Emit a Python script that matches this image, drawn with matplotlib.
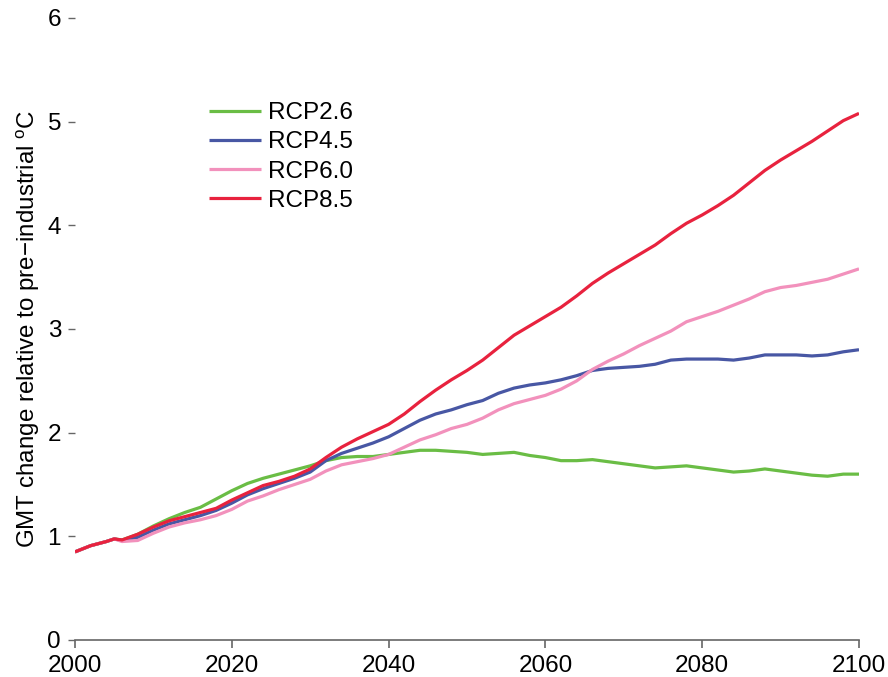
import matplotlib
matplotlib.use('Agg')
import matplotlib.pyplot as plt

plt.rcParams['font.family'] = ['Liberation Sans', 'DejaVu Sans']
plt.rcParams['mathtext.default'] = 'regular'

years = [2000, 2002, 2004, 2005, 2006] + list(range(2008, 2101, 2))

rcp26 = [0.85, 0.91, 0.95, 0.975, 0.965, 1.02, 1.10, 1.17, 1.23, 1.28, 1.36, 1.44,
         1.51, 1.56, 1.60, 1.64, 1.68, 1.73, 1.76, 1.77, 1.77, 1.79, 1.81, 1.83,
         1.83, 1.82, 1.81, 1.79, 1.80, 1.81, 1.78, 1.76, 1.73, 1.73, 1.74, 1.72,
         1.70, 1.68, 1.66, 1.67, 1.68, 1.66, 1.64, 1.62, 1.63, 1.65, 1.63, 1.61,
         1.59, 1.58, 1.60, 1.60]
rcp45 = [0.85, 0.91, 0.95, 0.975, 0.96, 0.99, 1.06, 1.12, 1.16, 1.20, 1.25, 1.32,
         1.40, 1.46, 1.51, 1.56, 1.62, 1.73, 1.80, 1.85, 1.90, 1.96, 2.04, 2.12,
         2.18, 2.22, 2.27, 2.31, 2.38, 2.43, 2.46, 2.48, 2.51, 2.55, 2.60, 2.62,
         2.63, 2.64, 2.66, 2.70, 2.71, 2.71, 2.71, 2.70, 2.72, 2.75, 2.75, 2.75,
         2.74, 2.75, 2.78, 2.80]
rcp60 = [0.85, 0.91, 0.95, 0.975, 0.95, 0.96, 1.03, 1.09, 1.13, 1.16, 1.20, 1.26,
         1.34, 1.39, 1.45, 1.50, 1.55, 1.63, 1.69, 1.72, 1.75, 1.79, 1.86, 1.93,
         1.98, 2.04, 2.08, 2.14, 2.22, 2.28, 2.32, 2.36, 2.42, 2.50, 2.61, 2.69,
         2.76, 2.84, 2.91, 2.98, 3.07, 3.12, 3.17, 3.23, 3.29, 3.36, 3.40, 3.42,
         3.45, 3.48, 3.53, 3.58]
rcp85 = [0.85, 0.91, 0.95, 0.975, 0.965, 1.02, 1.09, 1.15, 1.19, 1.23, 1.27, 1.35,
         1.42, 1.49, 1.53, 1.58, 1.65, 1.76, 1.86, 1.94, 2.01, 2.08, 2.18, 2.30,
         2.41, 2.51, 2.60, 2.70, 2.82, 2.94, 3.03, 3.12, 3.21, 3.32, 3.44, 3.54,
         3.63, 3.72, 3.81, 3.92, 4.02, 4.10, 4.19, 4.29, 4.41, 4.53, 4.63, 4.72,
         4.81, 4.91, 5.01, 5.08]

series = [('RCP2.6', rcp26, '#6abd45'),
          ('RCP4.5', rcp45, '#4857a4'),
          ('RCP6.0', rcp60, '#f291bc'),
          ('RCP8.5', rcp85, '#e8223e')]

fig = plt.figure(figsize=(8.88, 6.77), dpi=100)
ax = fig.add_axes([75 / 888, 1 - 640 / 677, 784 / 888, 622 / 677])

for name, vals, col in series:
    ax.plot(years, vals, color=col, lw=2.3, label=name, solid_capstyle='butt')

ax.set_xlim(2000, 2100)
ax.set_ylim(0, 6)
ax.set_xticks(range(2000, 2101, 20))
ax.set_yticks(range(0, 7))

for s in ['top', 'right', 'left']:
    ax.spines[s].set_visible(False)
ax.spines['bottom'].set_color('#666666')
ax.spines['bottom'].set_linewidth(1.2)
ax.tick_params(axis='x', direction='out', length=6, width=1.2, color='#666666',
               labelsize=17.5, pad=5)
ax.tick_params(axis='y', direction='out', length=5, width=1.0, color='#666666',
               labelsize=17.5, pad=5)

ax.set_ylabel('GMT change relative to pre\u2212industrial $^{o}$C', fontsize=17.4,
              labelpad=4)

fig.legend(loc='upper left', bbox_to_anchor=(209 / 888, 1 - 102 / 677),
           frameon=False, fontsize=17.5, handlelength=2.14, handletextpad=0.28,
           labelspacing=0.3, borderpad=0, borderaxespad=0)

fig.savefig('out.png', dpi=100)
